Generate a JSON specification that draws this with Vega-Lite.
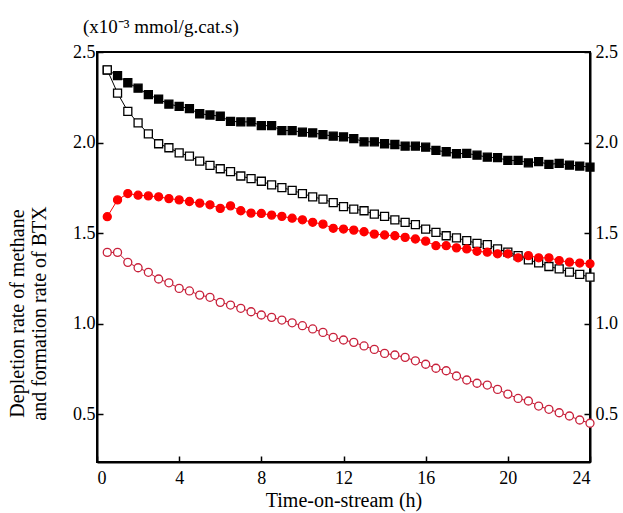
{
  "$schema": "https://vega.github.io/schema/vega-lite/v6.json",
  "width": 493,
  "height": 410,
  "autosize": {"type": "none"},
  "padding": {"left": 97, "top": 52, "right": 33, "bottom": 51},
  "background": "white",
  "title": {
    "text": "(x10⁻³ mmol/g.cat.s)",
    "anchor": "start",
    "frame": "group",
    "dx": -14,
    "dy": 29,
    "offset": 20,
    "baseline": "alphabetic",
    "font": "Liberation Serif",
    "fontSize": 19,
    "fontWeight": "normal",
    "color": "black"
  },
  "config": {
    "view": {"stroke": "black", "strokeWidth": 2},
    "axis": {
      "grid": false,
      "domainColor": "black",
      "domainWidth": 2,
      "tickColor": "black",
      "tickWidth": 1.5,
      "tickSize": -6,
      "labelFont": "Liberation Serif",
      "labelFontSize": 18,
      "labelColor": "black",
      "titleFont": "Liberation Serif",
      "titleFontSize": 20,
      "titleFontWeight": "normal",
      "titleColor": "black"
    }
  },
  "datasets": {
    "rows": [
      {"s": "A", "t": 0.5, "v": 2.40}, {"s": "A", "t": 1.0, "v": 2.370}, {"s": "A", "t": 1.5, "v": 2.330}, {"s": "A", "t": 2.0, "v": 2.300},
      {"s": "A", "t": 2.5, "v": 2.264}, {"s": "A", "t": 3.0, "v": 2.240}, {"s": "A", "t": 3.5, "v": 2.212}, {"s": "A", "t": 4.0, "v": 2.200},
      {"s": "A", "t": 4.5, "v": 2.187}, {"s": "A", "t": 5.0, "v": 2.159}, {"s": "A", "t": 5.5, "v": 2.152}, {"s": "A", "t": 6.0, "v": 2.145},
      {"s": "A", "t": 6.5, "v": 2.117}, {"s": "A", "t": 7.0, "v": 2.114}, {"s": "A", "t": 7.5, "v": 2.114}, {"s": "A", "t": 8.0, "v": 2.093},
      {"s": "A", "t": 8.5, "v": 2.093}, {"s": "A", "t": 9.0, "v": 2.066}, {"s": "A", "t": 9.5, "v": 2.066}, {"s": "A", "t": 10.0, "v": 2.057},
      {"s": "A", "t": 10.5, "v": 2.053}, {"s": "A", "t": 11.0, "v": 2.044}, {"s": "A", "t": 11.5, "v": 2.035}, {"s": "A", "t": 12.0, "v": 2.031},
      {"s": "A", "t": 12.5, "v": 2.022}, {"s": "A", "t": 13.0, "v": 2.004}, {"s": "A", "t": 13.5, "v": 2.004}, {"s": "A", "t": 14.0, "v": 1.993},
      {"s": "A", "t": 14.5, "v": 1.989}, {"s": "A", "t": 15.0, "v": 1.980}, {"s": "A", "t": 15.5, "v": 1.980}, {"s": "A", "t": 16.0, "v": 1.974},
      {"s": "A", "t": 16.5, "v": 1.956}, {"s": "A", "t": 17.0, "v": 1.949}, {"s": "A", "t": 17.5, "v": 1.938}, {"s": "A", "t": 18.0, "v": 1.940},
      {"s": "A", "t": 18.5, "v": 1.930}, {"s": "A", "t": 19.0, "v": 1.919}, {"s": "A", "t": 19.5, "v": 1.916}, {"s": "A", "t": 20.0, "v": 1.901},
      {"s": "A", "t": 20.5, "v": 1.901}, {"s": "A", "t": 21.0, "v": 1.888}, {"s": "A", "t": 21.5, "v": 1.894}, {"s": "A", "t": 22.0, "v": 1.879},
      {"s": "A", "t": 22.5, "v": 1.885}, {"s": "A", "t": 23.0, "v": 1.875}, {"s": "A", "t": 23.5, "v": 1.870}, {"s": "A", "t": 24.0, "v": 1.864},

      {"s": "B", "t": 0.5, "v": 2.401}, {"s": "B", "t": 1.0, "v": 2.273}, {"s": "B", "t": 1.5, "v": 2.172}, {"s": "B", "t": 2.0, "v": 2.108},
      {"s": "B", "t": 2.5, "v": 2.048}, {"s": "B", "t": 3.0, "v": 1.993}, {"s": "B", "t": 3.5, "v": 1.971}, {"s": "B", "t": 4.0, "v": 1.943},
      {"s": "B", "t": 4.5, "v": 1.925}, {"s": "B", "t": 5.0, "v": 1.897}, {"s": "B", "t": 5.5, "v": 1.874}, {"s": "B", "t": 6.0, "v": 1.855},
      {"s": "B", "t": 6.5, "v": 1.839}, {"s": "B", "t": 7.0, "v": 1.815}, {"s": "B", "t": 7.5, "v": 1.800}, {"s": "B", "t": 8.0, "v": 1.786},
      {"s": "B", "t": 8.5, "v": 1.766}, {"s": "B", "t": 9.0, "v": 1.751}, {"s": "B", "t": 9.5, "v": 1.736}, {"s": "B", "t": 10.0, "v": 1.718},
      {"s": "B", "t": 10.5, "v": 1.700}, {"s": "B", "t": 11.0, "v": 1.687}, {"s": "B", "t": 11.5, "v": 1.668}, {"s": "B", "t": 12.0, "v": 1.646},
      {"s": "B", "t": 12.5, "v": 1.632}, {"s": "B", "t": 13.0, "v": 1.623}, {"s": "B", "t": 13.5, "v": 1.604}, {"s": "B", "t": 14.0, "v": 1.592},
      {"s": "B", "t": 14.5, "v": 1.573}, {"s": "B", "t": 15.0, "v": 1.559}, {"s": "B", "t": 15.5, "v": 1.546}, {"s": "B", "t": 16.0, "v": 1.522},
      {"s": "B", "t": 16.5, "v": 1.504}, {"s": "B", "t": 17.0, "v": 1.485}, {"s": "B", "t": 17.5, "v": 1.473}, {"s": "B", "t": 18.0, "v": 1.458},
      {"s": "B", "t": 18.5, "v": 1.443}, {"s": "B", "t": 19.0, "v": 1.436}, {"s": "B", "t": 19.5, "v": 1.412}, {"s": "B", "t": 20.0, "v": 1.394},
      {"s": "B", "t": 20.5, "v": 1.375}, {"s": "B", "t": 21.0, "v": 1.352}, {"s": "B", "t": 21.5, "v": 1.335}, {"s": "B", "t": 22.0, "v": 1.315},
      {"s": "B", "t": 22.5, "v": 1.302}, {"s": "B", "t": 23.0, "v": 1.284}, {"s": "B", "t": 23.5, "v": 1.271}, {"s": "B", "t": 24.0, "v": 1.256},

      {"s": "C", "t": 0.5, "v": 1.590}, {"s": "C", "t": 1.0, "v": 1.683}, {"s": "C", "t": 1.5, "v": 1.718}, {"s": "C", "t": 2.0, "v": 1.709},
      {"s": "C", "t": 2.5, "v": 1.705}, {"s": "C", "t": 3.0, "v": 1.700}, {"s": "C", "t": 3.5, "v": 1.690}, {"s": "C", "t": 4.0, "v": 1.683},
      {"s": "C", "t": 4.5, "v": 1.674}, {"s": "C", "t": 5.0, "v": 1.665}, {"s": "C", "t": 5.5, "v": 1.656}, {"s": "C", "t": 6.0, "v": 1.636},
      {"s": "C", "t": 6.5, "v": 1.650}, {"s": "C", "t": 7.0, "v": 1.623}, {"s": "C", "t": 7.5, "v": 1.610}, {"s": "C", "t": 8.0, "v": 1.608},
      {"s": "C", "t": 8.5, "v": 1.599}, {"s": "C", "t": 9.0, "v": 1.592}, {"s": "C", "t": 9.5, "v": 1.582}, {"s": "C", "t": 10.0, "v": 1.573},
      {"s": "C", "t": 10.5, "v": 1.559}, {"s": "C", "t": 11.0, "v": 1.549}, {"s": "C", "t": 11.5, "v": 1.526}, {"s": "C", "t": 12.0, "v": 1.522},
      {"s": "C", "t": 12.5, "v": 1.516}, {"s": "C", "t": 13.0, "v": 1.507}, {"s": "C", "t": 13.5, "v": 1.494}, {"s": "C", "t": 14.0, "v": 1.489},
      {"s": "C", "t": 14.5, "v": 1.485}, {"s": "C", "t": 15.0, "v": 1.476}, {"s": "C", "t": 15.5, "v": 1.467}, {"s": "C", "t": 16.0, "v": 1.455},
      {"s": "C", "t": 16.5, "v": 1.430}, {"s": "C", "t": 17.0, "v": 1.430}, {"s": "C", "t": 17.5, "v": 1.418}, {"s": "C", "t": 18.0, "v": 1.412},
      {"s": "C", "t": 18.5, "v": 1.399}, {"s": "C", "t": 19.0, "v": 1.394}, {"s": "C", "t": 19.5, "v": 1.385}, {"s": "C", "t": 20.0, "v": 1.385},
      {"s": "C", "t": 20.5, "v": 1.363}, {"s": "C", "t": 21.0, "v": 1.375}, {"s": "C", "t": 21.5, "v": 1.363}, {"s": "C", "t": 22.0, "v": 1.363},
      {"s": "C", "t": 22.5, "v": 1.348}, {"s": "C", "t": 23.0, "v": 1.339}, {"s": "C", "t": 23.5, "v": 1.334}, {"s": "C", "t": 24.0, "v": 1.330},

      {"s": "D", "t": 0.5, "v": 1.393}, {"s": "D", "t": 1.0, "v": 1.393}, {"s": "D", "t": 1.5, "v": 1.338}, {"s": "D", "t": 2.0, "v": 1.308},
      {"s": "D", "t": 2.5, "v": 1.283}, {"s": "D", "t": 3.0, "v": 1.246}, {"s": "D", "t": 3.5, "v": 1.225}, {"s": "D", "t": 4.0, "v": 1.194},
      {"s": "D", "t": 4.5, "v": 1.180}, {"s": "D", "t": 5.0, "v": 1.157}, {"s": "D", "t": 5.5, "v": 1.145}, {"s": "D", "t": 6.0, "v": 1.117},
      {"s": "D", "t": 6.5, "v": 1.102}, {"s": "D", "t": 7.0, "v": 1.084}, {"s": "D", "t": 7.5, "v": 1.065}, {"s": "D", "t": 8.0, "v": 1.047},
      {"s": "D", "t": 8.5, "v": 1.034}, {"s": "D", "t": 9.0, "v": 1.019}, {"s": "D", "t": 9.5, "v": 1.004}, {"s": "D", "t": 10.0, "v": 0.988},
      {"s": "D", "t": 10.5, "v": 0.970}, {"s": "D", "t": 11.0, "v": 0.951}, {"s": "D", "t": 11.5, "v": 0.924}, {"s": "D", "t": 12.0, "v": 0.909},
      {"s": "D", "t": 12.5, "v": 0.896}, {"s": "D", "t": 13.0, "v": 0.876}, {"s": "D", "t": 13.5, "v": 0.857}, {"s": "D", "t": 14.0, "v": 0.835},
      {"s": "D", "t": 14.5, "v": 0.826}, {"s": "D", "t": 15.0, "v": 0.813}, {"s": "D", "t": 15.5, "v": 0.794}, {"s": "D", "t": 16.0, "v": 0.775},
      {"s": "D", "t": 16.5, "v": 0.753}, {"s": "D", "t": 17.0, "v": 0.739}, {"s": "D", "t": 17.5, "v": 0.710}, {"s": "D", "t": 18.0, "v": 0.688},
      {"s": "D", "t": 18.5, "v": 0.670}, {"s": "D", "t": 19.0, "v": 0.660}, {"s": "D", "t": 19.5, "v": 0.636}, {"s": "D", "t": 20.0, "v": 0.610},
      {"s": "D", "t": 20.5, "v": 0.586}, {"s": "D", "t": 21.0, "v": 0.572}, {"s": "D", "t": 21.5, "v": 0.544}, {"s": "D", "t": 22.0, "v": 0.526},
      {"s": "D", "t": 22.5, "v": 0.507}, {"s": "D", "t": 23.0, "v": 0.489}, {"s": "D", "t": 23.5, "v": 0.467}, {"s": "D", "t": 24.0, "v": 0.449}
    ]
  },
  "data": {"name": "rows"},
  "encoding": {
    "x": {
      "field": "t",
      "type": "quantitative",
      "scale": {"domain": [0, 24], "nice": false, "zero": false},
      "axis": {
        "values": [0, 4, 8, 12, 16, 20, 24],
        "title": "Time-on-stream (h)",
        "labelPadding": 13,
        "titlePadding": 3
      }
    }
  },
  "layer": [
    {
      "mark": {"type": "line", "strokeWidth": 1},
      "encoding": {
        "y": {
          "field": "v",
          "type": "quantitative",
          "scale": {"domain": [0.235, 2.5], "nice": false, "zero": false},
          "axis": {
            "orient": "left",
            "values": [0.5, 1.0, 1.5, 2.0, 2.5],
            "format": ".1f",
            "labelPadding": 8,
            "title": ["Depletion rate of methane", "and formation rate of BTX"],
            "titleLineHeight": 22,
            "titleY": 261,
            "titleX": -70
          }
        },
        "detail": {"field": "s"},
        "color": {
          "field": "s",
          "type": "nominal",
          "scale": {"domain": ["A", "B", "C", "D"], "range": ["black", "black", "#ff0000", "#c01830"]},
          "legend": null
        }
      }
    },
    {
      "mark": {"type": "point", "filled": true, "size": 64, "strokeWidth": 1.3, "opacity": 1},
      "encoding": {
        "y": {
          "field": "v",
          "type": "quantitative",
          "axis": {
            "orient": "right",
            "values": [0.5, 1.0, 1.5, 2.0, 2.5],
            "format": ".1f",
            "labelPadding": 11,
            "title": null
          }
        },
        "shape": {
          "field": "s",
          "type": "nominal",
          "scale": {"domain": ["A", "B", "C", "D"], "range": ["square", "square", "circle", "circle"]},
          "legend": null
        },
        "fill": {
          "field": "s",
          "type": "nominal",
          "scale": {"domain": ["A", "B", "C", "D"], "range": ["black", "white", "#ff0000", "white"]},
          "legend": null
        },
        "stroke": {
          "field": "s",
          "type": "nominal",
          "scale": {"domain": ["A", "B", "C", "D"], "range": ["black", "black", "#ff0000", "#c8203a"]},
          "legend": null
        }
      }
    }
  ],
  "resolve": {"axis": {"y": "independent"}}
}
